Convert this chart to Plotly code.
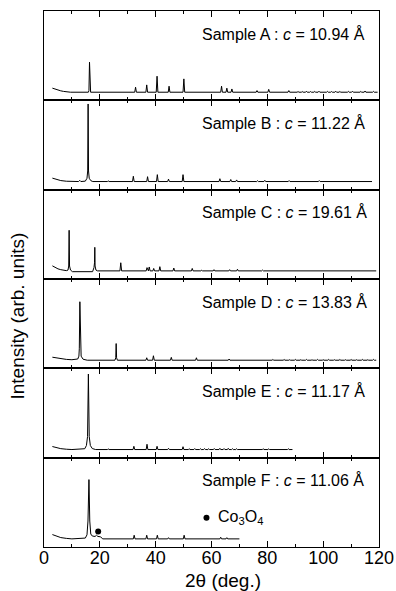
import plotly.graph_objects as go
from plotly.subplots import make_subplots

# ---------------- data (2θ in degrees, intensity in arb. units) ----------------
samples = ["A", "B", "C", "D", "E", "F"]
c_values = ["10.94", "11.22", "19.61", "13.83", "11.17", "11.06"]
x_ticks = [0, 20, 40, 60, 80, 100, 120]

# low-angle background + main reflections (explicit vertices)
A_prof_x = [3, 4, 5, 6, 7, 8, 9.5, 15.9, 16.1, 16.3, 16.5, 16.7]
A_prof_y = [0.05, 0.036, 0.026, 0.017, 0.010, 0.005, 0.0, 0.0, 0.02, 0.37, 0.02, 0.0]
A_peak_x = [32.8, 36.8, 40.5, 44.8, 50.1, 63.6, 65.5, 67.3, 76.3, 80.5, 87.7,
            91, 92.5, 94, 95.5, 97, 98.5, 100, 101.5, 103, 104.5, 106, 107.5,
            109, 110.5, 112, 113.5, 115, 116.5, 118]
A_peak_h = [0.062, 0.09, 0.197, 0.074, 0.164, 0.074, 0.05, 0.04, 0.02, 0.035, 0.02,
            0.01, 0.008, 0.012, 0.008, 0.01, 0.012, 0.008, 0.01, 0.008, 0.012, 0.01,
            0.008, 0.01, 0.012, 0.008, 0.01, 0.015, 0.008, 0.01]
A_end = 119.5

B_prof_x = [3, 4, 5, 6, 8, 10, 12.4, 12.8, 13.2, 14.8, 15.4, 15.65, 15.8, 15.95, 16.2, 16.8, 17.5]
B_prof_y = [0.042, 0.03, 0.02, 0.012, 0.004, 0.0, 0.0, 0.015, 0.0, 0.005, 0.04, 0.13, 0.955,
            0.13, 0.04, 0.01, 0.0]
B_peak_x = [23, 24.5, 26, 27.5, 29, 32.0, 37.1, 40.6, 44.6, 49.8, 63.0, 66.9, 69.0,
            76.5, 79.1, 87.8, 98.6, 110, 113, 116]
B_peak_h = [0.008, 0.008, 0.008, 0.008, 0.008, 0.065, 0.06, 0.085, 0.03, 0.085, 0.035,
            0.025, 0.02, 0.01, 0.015, 0.012, 0.012, 0.006, 0.006, 0.006]
B_end = 117.5

C_prof_x = [3, 4, 5, 6, 7, 8, 8.6, 8.85, 9.0, 9.15, 9.5, 10.2, 17.4, 17.9, 18.1, 18.2,
            18.3, 18.6, 19.2]
C_prof_y = [0.062, 0.04, 0.025, 0.015, 0.008, 0.003, 0.01, 0.06, 0.50, 0.06, 0.01, -0.01,
            -0.01, 0.04, 0.1, 0.29, 0.06, 0.01, 0.0]
C_peak_x = [27.5, 36.9, 37.7, 39.3, 41.5, 46.5, 53.1, 56.5, 60.9, 66.5, 69.3, 78.3, 89.5]
C_peak_h = [0.10, 0.04, 0.048, 0.03, 0.052, 0.035, 0.03, 0.008, 0.015, 0.015, 0.02, 0.01, 0.006]
C_end = 119.0

D_prof_x = [3, 4, 6, 8, 10, 11.5, 12.1, 12.5, 12.65, 12.85, 13.05, 13.3, 14, 15.5,
            25.4, 25.7, 25.85, 26.0, 26.3]
D_prof_y = [0.037, 0.03, 0.018, 0.01, 0.006, 0.008, 0.015, 0.05, 0.14, 0.72, 0.14, 0.05,
            0.012, 0.0, 0.0, 0.03, 0.205, 0.03, 0.0]
D_peak_x = [36.8, 39.2, 45.6, 54.6, 66.3, 82, 84, 86, 88, 90, 92, 94, 96, 98, 100, 102,
            104, 106, 108, 110, 112, 114, 116, 118]
D_peak_h = [0.03, 0.055, 0.035, 0.03, 0.015, 0.01, 0.006, 0.01, 0.006, 0.01, 0.006, 0.01,
            0.006, 0.01, 0.006, 0.01, 0.006, 0.01, 0.006, 0.01, 0.006, 0.01, 0.006, 0.01]
D_end = 119.0

E_prof_x = [3, 4, 5, 6, 8, 10, 14.6, 15.2, 15.6, 15.9, 16.2, 16.6, 17.3, 18.5]
E_prof_y = [0.037, 0.027, 0.018, 0.011, 0.004, 0.0, 0.01, 0.05, 0.16, 0.93, 0.16, 0.05,
            0.012, 0.0]
E_peak_x = [23, 24.5, 26, 27.5, 29, 32.2, 36.9, 40.5, 44.6, 49.8, 52, 54, 56, 57.5, 59,
            61, 63, 64.5, 66, 67.5, 69, 76.5, 78.5, 80.5, 87.5]
E_peak_h = [0.008, 0.008, 0.008, 0.008, 0.008, 0.04, 0.065, 0.04, 0.015, 0.035, 0.01,
            0.012, 0.01, 0.012, 0.01, 0.012, 0.015, 0.012, 0.015, 0.01, 0.01, 0.008,
            0.01, 0.008, 0.01]
E_end = 89.0

F_prof_x = [3, 4, 5, 6, 8, 10, 14.8, 15.4, 15.75, 16.1, 16.4, 16.75, 17.3, 18.3, 18.8,
            19.3, 20.3, 21.0]
F_prof_y = [0.053, 0.038, 0.026, 0.016, 0.006, 0.0, 0.01, 0.05, 0.22, 0.73, 0.22, 0.06,
            0.035, 0.03, 0.045, 0.03, 0.025, 0.0]
F_peak_x = [32.3, 36.8, 40.6, 44.6, 50.2, 63.3, 65.5]
F_peak_h = [0.045, 0.045, 0.045, 0.015, 0.045, 0.02, 0.015]
F_end = 70.0

co3o4_peak_x = [19.4]
co3o4_peak_y = [0.09]
co3o4_key_x = [58.2]
co3o4_key_y = [0.26]

profiles = {
    "A": (A_prof_x, A_prof_y, A_peak_x, A_peak_h, A_end),
    "B": (B_prof_x, B_prof_y, B_peak_x, B_peak_h, B_end),
    "C": (C_prof_x, C_prof_y, C_peak_x, C_peak_h, C_end),
    "D": (D_prof_x, D_prof_y, D_peak_x, D_peak_h, D_end),
    "E": (E_prof_x, E_prof_y, E_peak_x, E_peak_h, E_end),
    "F": (F_prof_x, F_prof_y, F_peak_x, F_peak_h, F_end),
}

# ---------------- figure ----------------
FONT = "Liberation Sans, Arial, sans-serif"
fig = make_subplots(rows=6, cols=1, shared_xaxes=True, vertical_spacing=0)

FOOT = 0.3  # half-width of a reflection's foot (drawing style)
for i, s in enumerate(samples, start=1):
    px, py, kx, kh, xend = profiles[s]
    pts = list(zip(px, py))
    for xp, hp in zip(kx, kh):
        pts += [(xp - FOOT, 0.0), (xp, hp), (xp + FOOT, 0.0)]
    pts.append((xend, 0.0))
    pts.sort(key=lambda t: t[0])
    fig.add_trace(go.Scatter(x=[p[0] for p in pts], y=[p[1] for p in pts], mode="lines",
                             line=dict(color="black", width=1), showlegend=False,
                             hoverinfo="skip"), row=i, col=1)
    fig.add_annotation(x=56.0, y=0.72, xanchor="left", yanchor="middle", showarrow=False,
                       text=f"Sample {s} : <i>c</i> = {c_values[i-1]} Å",
                       font=dict(family=FONT, size=16, color="black"), row=i, col=1)

# Co3O4 marks (panel F)
fig.add_trace(go.Scatter(x=co3o4_peak_x + co3o4_key_x, y=co3o4_peak_y + co3o4_key_y,
                         mode="markers", marker=dict(color="black", size=6),
                         showlegend=False, hoverinfo="skip"), row=6, col=1)
fig.add_annotation(x=61.6, y=co3o4_key_y[0], xanchor="left", yanchor="middle",
                   showarrow=False, text="Co<sub>3</sub>O<sub>4</sub>",
                   font=dict(family=FONT, size=16, color="black"), row=6, col=1)

for i in range(1, 7):
    fig.update_xaxes(range=[0, 120], tickvals=x_ticks, ticks="inside", ticklen=6, tickwidth=1,
                     tickcolor="black", showline=True, linecolor="black", linewidth=1,
                     mirror="ticks", showgrid=False, zeroline=False, automargin=False,
                     minor=dict(dtick=10, tick0=0, ticks="inside", ticklen=3, tickwidth=1,
                                tickcolor="black", showgrid=False),
                     tickfont=dict(family=FONT, size=18, color="black"),
                     ticklabelstandoff=-6,
                     showticklabels=(i == 6), row=i, col=1)
    fig.update_yaxes(range=[-0.1, 1.0], showticklabels=False, ticks="", showline=True,
                     linecolor="black", linewidth=1, mirror=True, showgrid=False,
                     zeroline=False, automargin=False, row=i, col=1)

fig.add_annotation(xref="paper", yref="paper", x=0.533, y=-0.062, xanchor="center",
                   yanchor="middle", showarrow=False, text="2θ (deg.)",
                   font=dict(family=FONT, size=19, color="black"))
fig.add_annotation(xref="paper", yref="paper", x=-0.079, y=0.431, xanchor="center",
                   yanchor="middle", showarrow=False, textangle=-90,
                   text="Intensity (arb. units)",
                   font=dict(family=FONT, size=19, color="black"))

fig.update_layout(width=396, height=591, margin=dict(l=44, r=17, t=11, b=44),
                  paper_bgcolor="white", plot_bgcolor="white", showlegend=False)

fig.write_html("out.html", config={"displayModeBar": False},
               post_script="document.body.style.margin='0';")
